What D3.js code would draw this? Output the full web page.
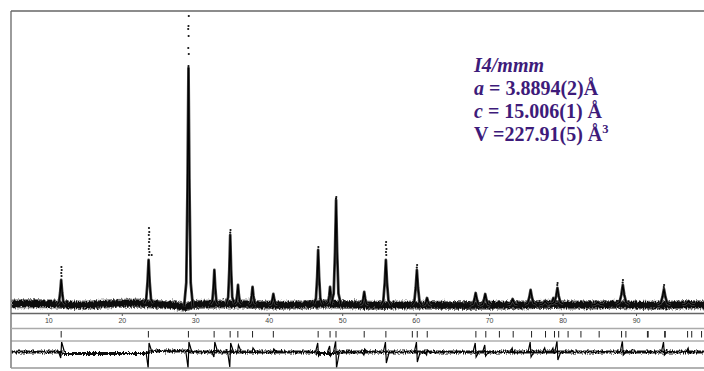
<!DOCTYPE html>
<html>
<head>
<meta charset="utf-8">
<script src="https://cdn.jsdelivr.net/npm/d3@7"></script>
<style>
  body { margin: 0; background: #fff; }
  svg { display: block; }
</style>
</head>
<body>
<div id="chart"></div>
<script>
// 2-theta axis labels
const xTicks = [10, 20, 30, 40, 50, 60, 70, 80, 90];

// background level of the observed pattern (2theta, counts)
const bgTheta  = [5, 8, 11, 13, 16, 19, 22, 23, 25, 27, 28.3, 28.7, 29.6, 31.5, 33.5, 36.5, 39, 42, 45, 47.5, 50.5, 54, 58, 63, 66, 70.5, 72, 74, 76.5, 78, 81, 84, 86, 87, 90, 92, 95, 97.5, 100];
const bgCounts = [90, 95, 90, 80, 82, 95, 100, 95, 85, 80, 60, 60, 85, 88, 90, 90, 82, 78, 82, 92, 85, 78, 80, 78, 75, 78, 80, 80, 85, 88, 80, 80, 82, 88, 80, 78, 80, 85, 78];

// peaks of the calculated profile
const peakPos  = [11.75, 23.65, 29.08, 32.6, 34.76, 35.82, 37.8, 40.63, 46.73, 48.35, 49.17, 53.0, 55.95, 60.17, 61.55, 68.17, 69.47, 73.2, 75.65, 77.62, 78.75, 79.3, 84.8, 88.2, 93.8, 97.15];
const peakCalc = [330, 530, 2450, 430, 780, 280, 260, 190, 630, 260, 1130, 210, 530, 430, 150, 200, 190, 140, 230, 120, 150, 250, 110, 280, 240, 120];
const peakBase = [85, 95, 65, 85, 90, 90, 85, 80, 90, 90, 90, 80, 80, 80, 75, 75, 75, 80, 85, 85, 90, 90, 80, 85, 80, 85];
const peakHW   = [0.6, 0.65, 0.6, 0.55, 0.55, 0.5, 0.55, 0.6, 0.6, 0.5, 0.65, 0.6, 0.7, 0.7, 0.65, 0.75, 0.75, 0.75, 0.8, 0.75, 0.65, 0.8, 0.85, 0.9, 0.9, 0.85];

// observed points standing above the calculated peaks
const obsTheta  = [29.12, 29.08, 29.04, 29.1, 29.05, 29.12, 29.08,
                   23.7, 23.74, 23.68, 23.76, 23.7, 23.74, 23.68, 23.76, 23.7, 24.07,
                   11.78, 11.82, 11.76, 11.8,
                   55.98, 55.94, 56.02, 55.96, 56.0,
                   49.2, 49.16, 60.2, 60.16, 79.32, 79.28, 88.22, 88.18, 93.82, 93.78, 46.76, 34.8, 34.76];
const obsCounts = [2970, 2870, 2840, 2770, 2650, 2590, 2470,
                   850, 810, 780, 740, 710, 670, 640, 610, 580, 580,
                   460, 430, 400, 370,
                   710, 680, 640, 610, 580,
                   1160, 1145, 480, 455, 300, 280, 330, 305, 280, 260, 660, 830, 805];

// Bragg reflection positions (2theta)
const reflections = [11.75, 23.62, 29.07, 32.57, 34.75, 35.8, 37.8, 40.63, 46.73, 48.35, 49.16, 53.0, 55.95, 59.55, 60.22, 61.58, 68.2, 69.55, 71.4, 73.28, 75.78, 77.68, 78.9, 79.47, 80.75, 82.5, 84.98, 88.03, 88.62, 91.55, 91.65, 93.9, 93.98, 97.02, 97.58, 98.92];

// difference curve: baseline and features at the peaks
const diffBaseTheta = [5, 11.5, 12.2, 23.4, 24, 28.8, 29.4, 46.5, 47, 48.8, 49.5, 100];
const diffBaseVal   = [0, 0, -15, -15, 10, 10, 0, 0, -15, -15, 0, 0];
const diffPos = [11.75, 23.65, 29.08, 32.6, 34.76, 35.82, 37.8, 40.63, 46.73, 48.35, 49.17, 53.0, 55.95, 60.17, 61.55, 68.17, 69.47, 73.2, 75.65, 77.62, 78.75, 79.3, 88.2, 93.8, 97.15];
const diffA   = [-60, -160, -160, -50, -150, 0, 0, 0, 90, 60, 110, -30, 100, 100, -30, 90, 70, 40, 100, 40, 40, 110, 110, 100, 40];
const diffB   = [100, 90, 100, 100, 90, 70, 40, 30, -40, -40, -160, 30, -110, -100, 20, -50, -40, -10, -50, 0, -10, -80, -30, -30, -10];

const W = 704, H = 371;
const svg = d3.select("#chart").append("svg")
  .attr("width", W).attr("height", H)
  .style("background", "#fff");

// rough edge texture for the counting-noise bands
const defs = svg.append("defs");
const rough = defs.append("filter").attr("id", "rough")
  .attr("filterUnits", "userSpaceOnUse")
  .attr("x", 0).attr("y", 0).attr("width", W).attr("height", H);
rough.append("feTurbulence").attr("type", "fractalNoise")
  .attr("baseFrequency", "0.9 0.35").attr("numOctaves", 2).attr("seed", 4).attr("result", "n");
rough.append("feDisplacementMap").attr("in", "SourceGraphic").attr("in2", "n")
  .attr("scale", 5).attr("xChannelSelector", "R").attr("yChannelSelector", "G");

const x = d3.scaleLinear().domain([4.92, 100]).range([11, 709.5]);
const y = d3.scaleLinear().domain([0, 3020]).range([313, 11]);
const yd = d3.scaleLinear().domain([-160, 110]).range([368, 341]);

svg.append("clipPath").attr("id", "clipMain")
  .append("rect").attr("x", 11).attr("y", 11).attr("width", 693).attr("height", 302);
svg.append("clipPath").attr("id", "clipDiff")
  .append("rect").attr("x", 11).attr("y", 341).attr("width", 693).attr("height", 27);

const main = svg.append("g").attr("clip-path", "url(#clipMain)");

// noisy background band of the observed data
const bgLine = d3.line().x(d => x(d[0])).y(d => y(d[1]));
const bgData = bgTheta.map((t, i) => [t, bgCounts[i]]);
const band = main.append("g").attr("filter", "url(#rough)");
band.append("path").attr("d", bgLine(bgData))
  .attr("fill", "none").attr("stroke", "#777").attr("stroke-width", 9);
band.append("path").attr("d", bgLine(bgData))
  .attr("fill", "none").attr("stroke", "#101010").attr("stroke-width", 6.5);

// peak glyph, relative (half width, height fraction)
const shape = [[-1, 0], [-0.5, 0.1], [-0.22, 0.5], [0, 1], [0.22, 0.5], [0.5, 0.1], [1, 0]];
const line = d3.line().x(d => x(d[0])).y(d => y(d[1]));
peakPos.forEach((p, i) => {
  const pts = shape.map(s => [p + s[0] * peakHW[i], peakBase[i] + s[1] * (peakCalc[i] - peakBase[i])]);
  main.append("path").attr("d", line(pts))
    .attr("fill", "none").attr("stroke", "#444").attr("stroke-width", 2.8).attr("stroke-linejoin", "round");
  main.append("path").attr("d", line(pts))
    .attr("fill", "none").attr("stroke", "#000").attr("stroke-width", 1.3).attr("stroke-linejoin", "round");
});

main.selectAll("circle.obs")
  .data(obsTheta.map((t, i) => [t, obsCounts[i]]))
  .enter().append("circle")
  .attr("class", "obs")
  .attr("cx", d => x(d[0]))
  .attr("cy", d => y(d[1]))
  .attr("r", 1.1)
  .attr("fill", "#111");

// axis with 2theta labels
const axis = svg.append("g")
  .attr("transform", "translate(0,313)")
  .call(d3.axisBottom(x).tickValues(xTicks).tickSize(3).tickPadding(2).tickFormat(d3.format("d")));
axis.select(".domain").remove();
axis.selectAll(".tick line").attr("stroke", "#555");
axis.selectAll("text")
  .attr("fill", "#444")
  .style("font-family", "'Liberation Sans', Arial, sans-serif")
  .style("font-size", "7px");

// reflection markers
svg.append("g").selectAll("line")
  .data(reflections)
  .enter().append("line")
  .attr("x1", d => x(d)).attr("x2", d => x(d))
  .attr("y1", 331).attr("y2", 337.5)
  .attr("stroke", "#222").attr("stroke-width", 1);

// difference curve
const diff = svg.append("g").attr("clip-path", "url(#clipDiff)");
const dLine = d3.line().x(d => x(d[0])).y(d => yd(d[1]));
const dBand = diff.append("g").attr("filter", "url(#rough)");
dBand.append("path").attr("d", dLine(diffBaseTheta.map((t, i) => [t, diffBaseVal[i]])))
  .attr("fill", "none").attr("stroke", "#111").attr("stroke-width", 3);
diffPos.forEach((p, i) => {
  const pts = [[p - 0.35, 0], [p - 0.06, diffA[i]], [p + 0.06, diffB[i]], [p + 0.45, 0]];
  diff.append("path").attr("d", dLine(pts))
    .attr("fill", "none").attr("stroke", "#000").attr("stroke-width", 1.2);
});

// panel frame
const frame = svg.append("g").attr("fill", "none");
frame.append("line").attr("x1", 11).attr("x2", 704).attr("y1", 11).attr("y2", 11)
  .attr("stroke", "#666").attr("stroke-width", 1.3);
frame.append("line").attr("x1", 11).attr("x2", 11).attr("y1", 11).attr("y2", 368)
  .attr("stroke", "#666").attr("stroke-width", 1.3);
frame.append("line").attr("x1", 11).attr("x2", 704).attr("y1", 313.5).attr("y2", 313.5)
  .attr("stroke", "#666").attr("stroke-width", 1.3);
frame.append("line").attr("x1", 11).attr("x2", 704).attr("y1", 328.5).attr("y2", 328.5)
  .attr("stroke", "#aaa").attr("stroke-width", 1.6);
frame.append("line").attr("x1", 11).attr("x2", 704).attr("y1", 341).attr("y2", 341)
  .attr("stroke", "#888").attr("stroke-width", 1.1);
frame.append("line").attr("x1", 11).attr("x2", 704).attr("y1", 368).attr("y2", 368)
  .attr("stroke", "#999").attr("stroke-width", 1.5);

// cell parameters
const note = svg.append("g")
  .attr("fill", "#3e1b7a")
  .style("font-family", "'Liberation Serif', 'Times New Roman', serif")
  .style("font-weight", "bold")
  .style("font-size", "20px");
note.append("text").attr("x", 474).attr("y", 71.5)
  .style("font-style", "italic").text("I4/mmm");
const t2 = note.append("text").attr("x", 474).attr("y", 94.5);
t2.append("tspan").style("font-style", "italic").text("a");
t2.append("tspan").text(" = 3.8894(2)Å");
const t3 = note.append("text").attr("x", 474).attr("y", 117.5);
t3.append("tspan").style("font-style", "italic").text("c");
t3.append("tspan").text(" = 15.006(1) Å");
const t4 = note.append("text").attr("x", 474).attr("y", 140.5);
t4.append("tspan").text("V =227.91(5) Å");
t4.append("tspan").attr("dy", -8).style("font-size", "12.5px").text("3");
</script>
</body>
</html>
